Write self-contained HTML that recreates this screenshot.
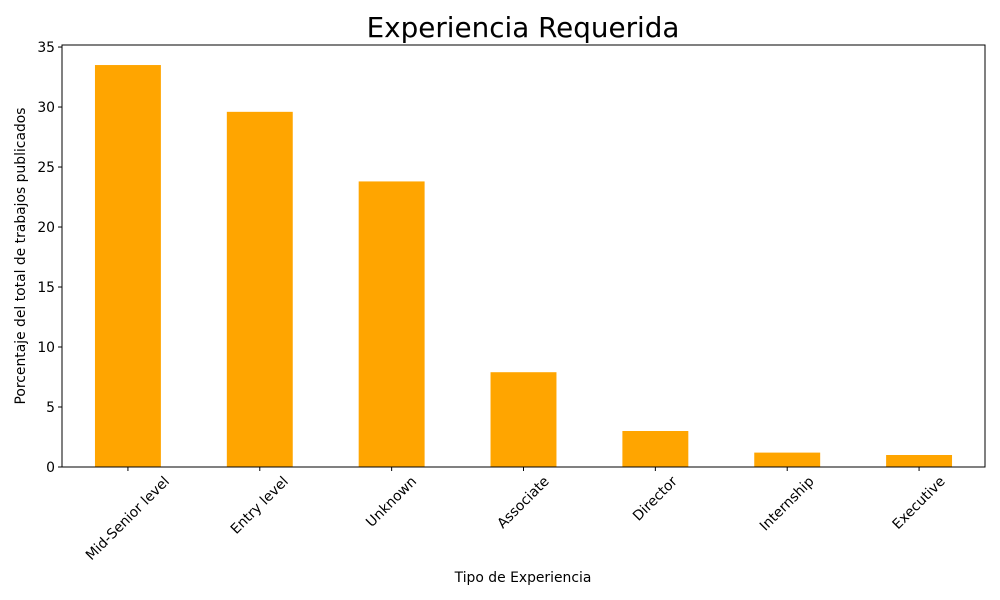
<!DOCTYPE html>
<html><head><meta charset="utf-8"><style>
html,body{margin:0;padding:0;background:#fff;}
svg{display:block;font-family:"DejaVu Sans","Liberation Sans",sans-serif;}
</style></head><body>
<svg id="chart" width="1000" height="600" viewBox="0 0 1000 600" xmlns="http://www.w3.org/2000/svg">
<rect width="1000" height="600" fill="#fff"/>
<text x="523" y="37" font-size="27.8" text-anchor="middle" fill="#000">Experiencia Requerida</text>
<g id="bars"></g>
<g id="yticks"></g>
<g id="xticks"></g>
<rect x="62" y="45" width="923" height="422" fill="none" stroke="#000" stroke-width="1"/>
<text x="523" y="582" font-size="13.9" text-anchor="middle">Tipo de Experiencia</text>
<text transform="translate(25,256) rotate(-90)" font-size="13.9" text-anchor="middle">Porcentaje del total de trabajos publicados</text>
</svg>
<script>
const categories = ["Mid-Senior level","Entry level","Unknown","Associate","Director","Internship","Executive"];
const values = [33.5, 29.6, 23.8, 7.9, 3.0, 1.2, 1.0];
const yTicks = [0,5,10,15,20,25,30,35];

const NS="http://www.w3.org/2000/svg";
const L=62,R=985,T=45,B=467,YMAX=35.17;
const yScale=v=>B-(v/YMAX)*(B-T);
const step=(R-L)/categories.length;
const xScale=i=>L+step*(i+0.5);
const bw=step*0.5;
const bars=document.getElementById('bars');
values.forEach((v,i)=>{
  const r=document.createElementNS(NS,'rect');
  r.setAttribute('x',xScale(i)-bw/2);
  r.setAttribute('y',yScale(v));
  r.setAttribute('width',bw);
  r.setAttribute('height',B-yScale(v));
  r.setAttribute('fill','#ffa500');
  
  
  bars.appendChild(r);
});
const yg=document.getElementById('yticks');
yTicks.forEach(t=>{
  const y=yScale(t);
  const l=document.createElementNS(NS,'line');
  l.setAttribute('x1',L-4);l.setAttribute('x2',L);l.setAttribute('y1',y);l.setAttribute('y2',y);
  l.setAttribute('stroke','#000');
  
  
  yg.appendChild(l);
  const tx=document.createElementNS(NS,'text');
  tx.setAttribute('x',L-7);tx.setAttribute('y',y+5);
  tx.setAttribute('font-size','13.9');tx.setAttribute('text-anchor','end');
  tx.textContent=t;
  
  
  yg.appendChild(tx);
});
const xg=document.getElementById('xticks');
categories.forEach((c,i)=>{
  const x=xScale(i);
  const l=document.createElementNS(NS,'line');
  l.setAttribute('x1',x);l.setAttribute('x2',x);l.setAttribute('y1',B);l.setAttribute('y2',B+4);
  l.setAttribute('stroke','#000');
  
  
  xg.appendChild(l);
  const tx=document.createElementNS(NS,'text');
  tx.setAttribute('font-size','13.9');tx.setAttribute('text-anchor','middle');
  tx.setAttribute('dominant-baseline','central');
  tx.textContent=c;
  
  
  xg.appendChild(tx);
  const w=tx.getComputedTextLength();
  const h=(w+15)*0.7071;
  const cy=B+7+h/2;
  tx.setAttribute('transform','translate('+x+','+cy+') rotate(-45)');
});
</script>
</body></html>
